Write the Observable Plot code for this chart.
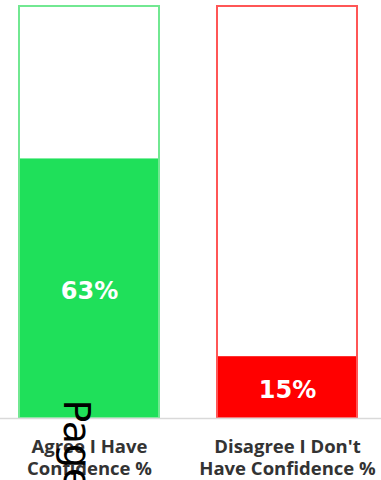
<!DOCTYPE html>
<html>
<head>
<meta charset="utf-8">
<script src="https://cdn.jsdelivr.net/npm/d3@7"></script>
<script src="https://cdn.jsdelivr.net/npm/@observablehq/plot@0.6"></script>
<style>
  html, body { margin: 0; padding: 0; background: #fff; }
  #chart svg { display: block; }
</style>
</head>
<body>
<div id="chart"></div>
<script>
// Survey responses on confidence
const categories = ["Agree I Have\nConfidence %", "Disagree I Don't\nHave Confidence %"];
const values = [63, 15];
const fillColors = ["#1fe05a", "#ff0000"];
const outlineColors = ["#72e892", "#ff5656"];
const stray = ["Page"];

const rows = categories.map((c, i) => ({
  category: c,
  value: values[i],
  fill: fillColors[i],
  outline: outlineColors[i],
  full: 100
}));

const chart = Plot.plot({
  width: 381,
  height: 480,
  marginTop: 6,
  marginBottom: 62,
  marginLeft: 0,
  marginRight: 6,
  style: { background: "#fff", overflow: "visible" },
  x: {
    domain: categories,
    paddingInner: 0.294,
    paddingOuter: 0.09,
    axis: null
  },
  y: { domain: [0, 100], axis: null },
  marks: [
    // filled share
    Plot.barY(rows, { x: "category", y: "value", fill: d => d.fill }),
    // full-height outline
    Plot.barY(rows, { x: "category", y: "full", fill: "none", stroke: d => d.outline, strokeWidth: 2 }),
    // baseline
    Plot.ruleY([0], { stroke: "#d9d9d9", strokeWidth: 1.5, insetRight: -6 }),
    // value labels
    Plot.text(rows, {
      x: "category",
      y: d => d.value / 2,
      text: d => `${d.value}%`,
      fill: "#fff",
      fontFamily: "DejaVu Sans",
      fontWeight: "bold",
      fontSize: 24,
      dy: 3
    }),
    // category labels
    Plot.axisX({
      tickSize: 0,
      tickPadding: 19,
      fontFamily: "Open Sans",
      fontWeight: "bold",
      fontSize: 18.5,
      lineHeight: 1.2,
      fill: "#333",
      label: null
    }),
    // stray rotated text
    Plot.text(stray, {
      x: () => categories[0],
      frameAnchor: "bottom",
      text: d => d,
      rotate: 90,
      textAnchor: "start",
      lineAnchor: "bottom",
      fontFamily: "DejaVu Sans",
      fontSize: 38,
      fill: "#000",
      dx: -26,
      dy: -19
    })
  ]
});

document.getElementById("chart").appendChild(chart);
</script>
</body>
</html>
